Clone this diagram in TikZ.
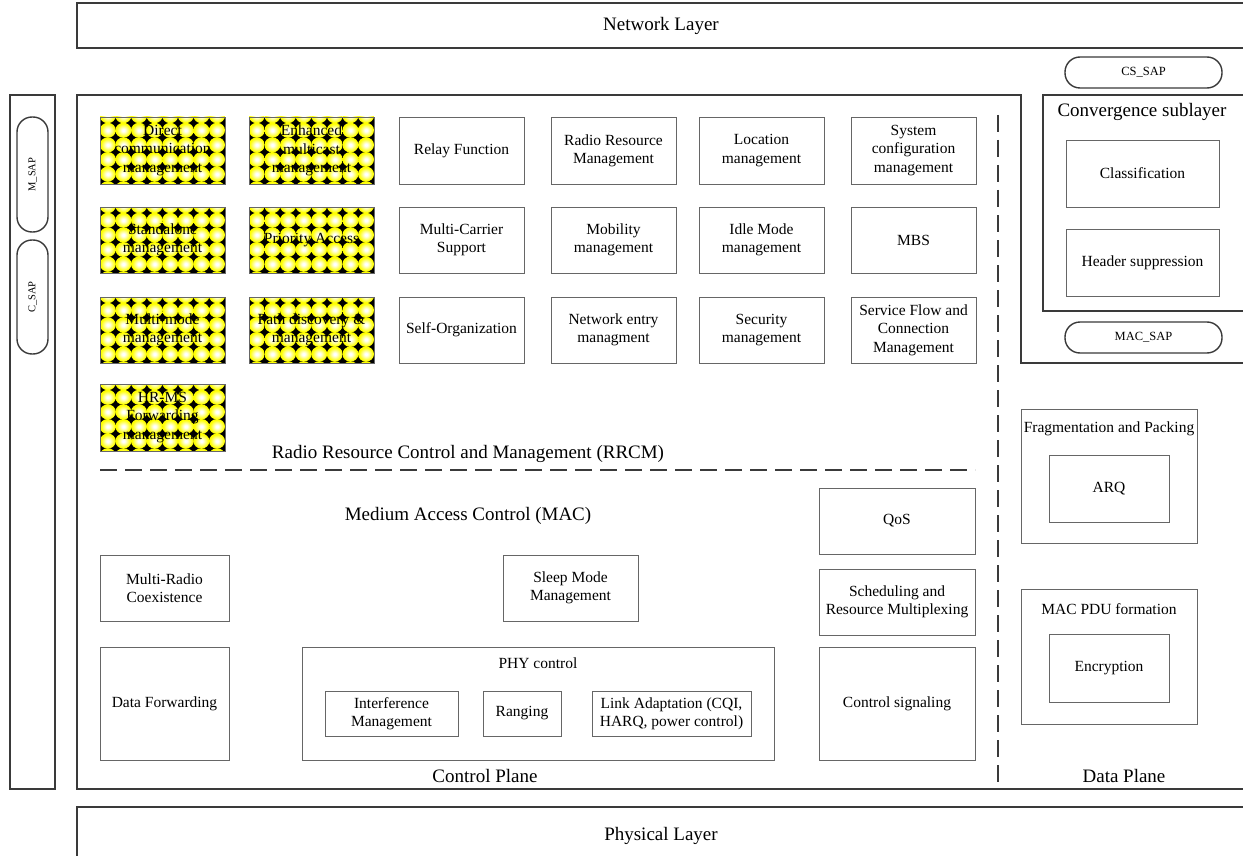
\documentclass[tikz,border=0pt]{standalone}
\usepackage{fontspec}
\setmainfont{Liberation Serif}
\usetikzlibrary{shadows}
\newcommand\fs{\fontsize{15.5}{18.3}\selectfont}
\newcommand\fl{\fontsize{19}{22}\selectfont}
\newcommand\fsap{\fontsize{12.5}{14}\selectfont}
\newcommand\fsv{\fontsize{10.5}{12}\selectfont}
\definecolor{lin}{HTML}{3A3A3A}
\definecolor{thn}{HTML}{666666}
\definecolor{yelc}{HTML}{FFFF00}
\pgfdeclareradialshading{yball}{\pgfpoint{0bp}{0bp}}{color(0bp)=(white); color(4bp)=(white); color(22bp)=(yelc); color(50bp)=(yelc)}
\tikzset{
  outl/.style={draw=lin, line width=2.6pt},
  dsh/.style={draw=lin, line width=2.6pt, dash pattern=on 17pt off 8pt},
  sz/.style 2 args={minimum width=#1pt, minimum height=#2pt},
  blk/.style={draw=thn, line width=0.9pt, fill=white, align=center, font=\fs, inner sep=1pt,
    drop shadow={shadow xshift=1.3pt, shadow yshift=-1.3pt, fill=black!30, opacity=0.5}},
  yel/.style={draw=thn, line width=0.9pt, align=center, font=\fs, inner sep=1pt,
    path picture={
      \fill[black] (path picture bounding box.south west) rectangle (path picture bounding box.north east);
      \foreach \i in {0,...,7}{\foreach \j in {0,...,5}{
        \shade[shading=yball]
          ([xshift=(\i*15.6+7.8)*1pt, yshift=-(\j*14.6-1.3)*1pt]path picture bounding box.north west)
          ellipse [x radius=8pt, y radius=7.5pt];
      }}
    }},
  sap/.style={draw=lin, line width=1.4pt, rounded corners=15pt, fill=white},
  lbl/.style={font=\fl, inner sep=0pt},
}
\begin{document}
\begin{tikzpicture}[x=1pt,y=-1pt]
\clip (0,0) rectangle (1243,856);
\fill[white] (0,0) rectangle (1243,856);

% layers
\draw[outl] (77,3) rectangle (1262,48);
\node[lbl] (netl) at (661,26) {Network Layer};
\draw[outl] (77,807) rectangle (1262,875);
\node[lbl] (phyl) at (661,836) {Physical Layer};

% left SAP bar
\draw[outl] (10,95) rectangle (55,789);
\node[sap, sz={115}{31}, rotate=90, font=\fsv] (msap) at (32.5,174.5) {M\_SAP};
\node[sap, sz={114}{31}, rotate=90, font=\fsv] (csap) at (32.5,297) {C\_SAP};

% control plane outline
\draw[outl] (1262,363) -- (1021,363) -- (1021,95) -- (77,95) -- (77,789) -- (1262,789);
\draw[dsh] (998,115) -- (998,789);
\draw[dsh] (100,470) -- (975,470);

% convergence sublayer
\node[sap, sz={157}{31}, font=\fsap] (cssap) at (1143.5,72.5) {CS\_SAP};
\draw[outl] (1043,95) rectangle (1262,311);
\node[lbl] (conv) at (1142,112) {Convergence sublayer};
\node[blk, sz={153}{67}] (class) at (1142.5,173.5) {Classification};
\node[blk, sz={153}{67}] (hdr) at (1142.5,262.5) {Header suppression};
\node[sap, sz={157}{31}, font=\fsap] (macsap) at (1143.5,337.5) {MAC\_SAP};

% RRCM row 1
\node[yel, sz={125}{67}] (dcm) at (162.5,150.5) {Direct\\communication\\management};
\node[yel, sz={125}{67}] (emm) at (311.5,150.5) {Enhanced\\multicast\\management};
\node[blk, sz={125}{67}] (relay) at (461.5,150.5) {Relay Function};
\node[blk, sz={125}{67}] (rrm) at (613.5,150.5) {Radio Resource\\Management};
\node[blk, sz={125}{67}] (loc) at (761.5,150.5) {Location\\management};
\node[blk, sz={125}{67}] (sys) at (913.5,150.5) {System\\configuration\\management};
% row 2
\node[yel, sz={125}{66}] (stand) at (162.5,240) {Standalone\\management};
\node[yel, sz={125}{66}] (prio) at (311.5,240) {Priority Access};
\node[blk, sz={125}{66}] (mcs) at (461.5,240) {Multi-Carrier\\Support};
\node[blk, sz={125}{66}] (mob) at (613.5,240) {Mobility\\management};
\node[blk, sz={125}{66}] (idle) at (761.5,240) {Idle Mode\\management};
\node[blk, sz={125}{66}] (mbs) at (913.5,240) {MBS};
% row 3
\node[yel, sz={125}{66}] (mmm) at (162.5,330) {Multi-mode\\management};
\node[yel, sz={125}{66}] (path) at (311.5,330) {Path discovery \&\\management};
\node[blk, sz={125}{66}] (selforg) at (461.5,330) {Self-Organization};
\node[blk, sz={125}{66}] (nem) at (613.5,330) {Network entry\\managment};
\node[blk, sz={125}{66}] (sec) at (761.5,330) {Security\\management};
\node[blk, sz={125}{66}] (sfc) at (913.5,330) {Service Flow and\\Connection\\Management};
% row 4
\node[yel, sz={125}{67}] (hrms) at (162.5,417.5) {HR-MS\\Forwarding\\management};
\node[lbl] (rrcm) at (468,454) {Radio Resource Control and Management (RRCM)};

% MAC
\node[lbl] (mac) at (468,516) {Medium Access Control (MAC)};
\node[blk, sz={129}{66}] (mrc) at (164.5,588) {Multi-Radio\\Coexistence};
\node[blk, sz={135}{66}] (sleep) at (570.5,588) {Sleep Mode\\Management};
\node[blk, sz={156}{66}] (qos) at (897,521) {QoS};
\node[blk, sz={156}{66}] (sched) at (897,602) {Scheduling and\\Resource Multiplexing};
\node[blk, sz={156}{113}] (csig) at (897,703.5) {Control signaling};
\node[blk, sz={129}{113}] (dfwd) at (164.5,703.5) {Data Forwarding};
\node[blk, sz={472}{113}] (phyc) at (538,703.5) {};
\node[font=\fs] (phyclbl) at (538,663) {PHY control};
\node[blk, sz={133}{45}] (intf) at (391.5,713.5) {Interference\\Management};
\node[blk, sz={78}{45}] (rang) at (522,713.5) {Ranging};
\node[blk, sz={159}{45}] (link) at (671.5,713.5) {Link Adaptation (CQI,\\HARQ, power control)};
\node[lbl] (cplane) at (485,776) {Control Plane};

% data plane
\node[blk, sz={176}{134}] (frag) at (1109,476) {};
\node[font=\fs] (fraglbl) at (1109,429) {Fragmentation and Packing};
\node[blk, sz={120}{67}] (arq) at (1109,488.5) {ARQ};
\node[blk, sz={176}{135}] (pdu) at (1109,656.5) {};
\node[font=\fs] (pdulbl) at (1109,609) {MAC PDU formation};
\node[blk, sz={120}{68}] (enc) at (1109,668) {Encryption};
\node[lbl] (dplane) at (1124,776) {Data Plane};
\end{tikzpicture}
\end{document}
